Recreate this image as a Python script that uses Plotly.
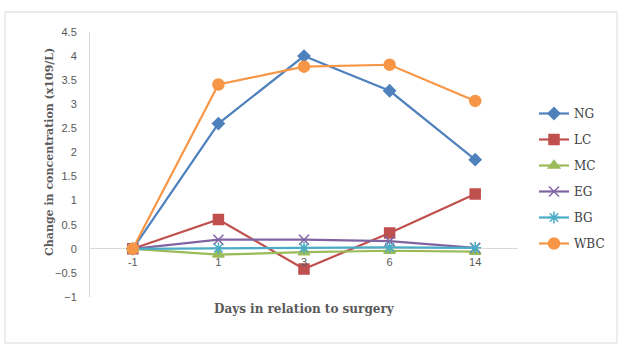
import plotly.graph_objects as go

days = ["-1", "1", "3", "6", "14"]
series_names = ["NG", "LC", "MC", "EG", "BG", "WBC"]
NG = [0, 2.6, 4.0, 3.28, 1.85]
LC = [0, 0.61, -0.42, 0.33, 1.14]
MC = [0, -0.12, -0.07, -0.04, -0.06]
EG = [0, 0.19, 0.19, 0.16, 0.02]
BG = [0, 0.01, 0.02, 0.03, 0.02]
WBC = [0, 3.41, 3.78, 3.82, 3.07]
values = [NG, LC, MC, EG, BG, WBC]

colors = ["#4F81BD", "#C0504D", "#9BBB59", "#8064A2", "#4BACC6", "#F79646"]
symbols = ["diamond", "square", "triangle-up", "x-thin-open", "asterisk-open", "circle"]
sizes = [9, 10, 10, 10, 10, 11]

fig = go.Figure()
for name, vals, c, s, sz in zip(series_names, values, colors, symbols, sizes):
    fig.add_trace(go.Scatter(
        x=days, y=vals, name=name, mode="lines+markers",
        legendgroup=name,
        line=dict(color=c, width=2.2),
        marker=dict(symbol=s, size=sz, color=c, line=dict(color=c, width=1.5)),
    ))

L, R, T, B = 90, 107, 32, 56
W, H = 625, 353
pw, ph = W - L - R, H - T - B

def px(x):
    return (x - L) / pw

def py(y):
    return (H - B - y) / ph

fig.update_layout(
    width=W, height=H,
    margin=dict(l=L, r=R, t=T, b=B),
    paper_bgcolor="white", plot_bgcolor="white",
    font=dict(family="Liberation Sans", color="#595959", size=11),
    showlegend=True,
    legend=dict(
        x=px(534), y=py(99), xanchor="left", yanchor="top",
        font=dict(family="DejaVu Serif", size=12, color="#404040"),
        tracegroupgap=7, bgcolor="rgba(0,0,0,0)",
    ),
    xaxis=dict(
        type="category", range=[-0.5, 4.5],
        anchor="free", position=1 / 5.5,
        showline=False, showgrid=False, zeroline=False,
        ticks="outside", ticklen=3, tickcolor="rgba(0,0,0,0)",
        tickfont=dict(family="Liberation Sans", size=11, color="#595959"),
    ),
    yaxis=dict(
        range=[-1, 4.5], dtick=0.5, tickformat="",
        showline=True, linecolor="#D9D9D9", linewidth=1,
        showgrid=False, zeroline=True, zerolinecolor="#D9D9D9", zerolinewidth=1,
        ticks="outside", ticklen=10, tickcolor="rgba(0,0,0,0)",
        tickfont=dict(family="Liberation Sans", size=11, color="#595959"),
    ),
    shapes=[dict(
        type="rect", xref="paper", yref="paper",
        x0=px(5), x1=px(617), y0=py(343), y1=py(12),
        line=dict(color="#D9D9D9", width=1), fillcolor="rgba(0,0,0,0)", layer="below",
    )],
    annotations=[
        dict(text="<b>Change in concentration (x109/L)</b>", textangle=-90,
             xref="paper", yref="paper", x=px(49), y=py(152),
             xanchor="center", yanchor="middle", showarrow=False,
             font=dict(family="DejaVu Serif", size=11, color="#595959")),
        dict(text="<b>Days in relation to surgery</b>",
             xref="paper", yref="paper", x=px(304), y=py(309),
             xanchor="center", yanchor="middle", showarrow=False,
             font=dict(family="DejaVu Serif", size=12, color="#595959")),
    ],
)

fig.write_html("out.html")
